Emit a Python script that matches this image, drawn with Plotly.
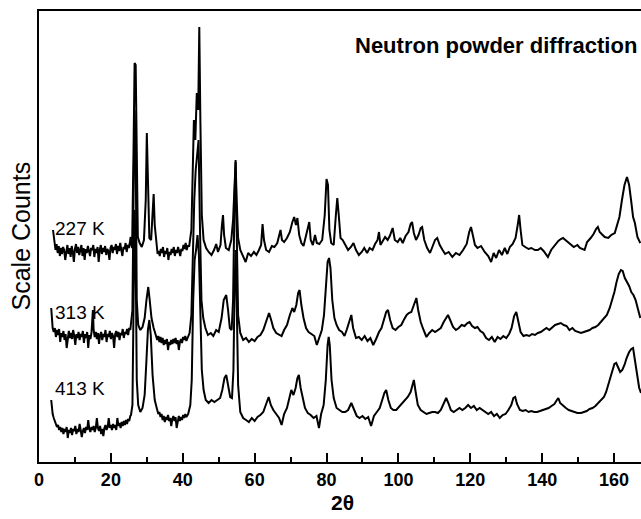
import plotly.graph_objects as go

# ---- data: 2theta (deg), scaled counts (arbitrary units, offsets included) ----
pattern_227K = [(3.9,270),(4.1,262),(4.3,255),(4.6,250),(4.9,256),(5.2,247),(5.5,254),(5.8,244),(6.1,252),(6.4,246),(6.7,253),(7.0,250),(7.3,240),(7.6,251),(7.9,255),(8.2,246),(8.5,252),(8.8,243),(9.1,254),(9.4,248),(9.7,238),(10.0,251),(10.3,256),(10.6,247),(10.9,253),(11.2,245),(11.5,250),(11.8,255),(12.1,244),(12.4,252),(12.7,240),(13.0,251),(13.3,247),(13.6,254),(13.9,249),(14.2,244),(14.5,252),(14.8,250),(15.1,255),(15.4,243),(15.7,251),(16.0,247),(16.3,253),(16.6,238),(16.9,250),(17.2,255),(17.5,246),(17.8,252),(18.1,248),(18.4,254),(18.7,245),(19.0,251),(19.3,249),(19.6,240),(19.9,252),(20.2,255),(20.5,247),(20.8,253),(21.1,250),(21.4,256),(21.7,246),(22.0,254),(22.3,249),(22.6,257),(22.9,250),(23.2,244),(23.5,253),(23.8,251),(24.1,257),(24.4,248),(24.7,255),(25.0,252),(25.3,258),(25.5,263),(25.7,255),(25.9,252),(26.3,350),(26.6,437),(26.9,435),(27.2,320),(27.5,263),(28.0,257),(28.6,253),(29.2,260),(29.7,300),(30.0,367),(30.3,310),(30.7,262),(31.2,260),(31.6,290),(31.9,306),(32.2,275),(32.7,252),(33.0,246),(33.3,249),(33.6,244),(33.9,251),(34.2,247),(34.5,253),(34.8,243),(35.1,249),(35.4,246),(35.7,252),(36.0,240),(36.3,248),(36.6,245),(36.9,251),(37.2,247),(37.5,253),(37.8,244),(38.1,250),(38.4,247),(38.7,253),(39.0,248),(39.3,244),(39.6,251),(39.9,249),(40.2,255),(40.5,251),(40.8,257),(41.1,250),(41.4,254),(41.8,254),(42.4,270),(42.8,340),(43.1,380),(43.5,360),(43.9,407),(44.3,390),(44.6,473),(44.9,380),(45.3,285),(45.8,260),(46.5,252),(47.2,248),(48.0,245),(48.7,250),(49.3,256),(49.8,248),(50.5,255),(50.9,275),(51.2,285),(51.5,265),(52.0,252),(52.8,250),(53.5,260),(54.0,280),(54.4,325),(54.7,338),(55.0,300),(55.4,262),(56.0,250),(56.8,244),(57.5,238),(58.2,247),(59.0,244),(59.8,248),(60.5,245),(61.2,250),(61.8,255),(62.2,276),(62.6,260),(63.2,250),(64.0,248),(64.8,254),(65.5,253),(66.3,257),(66.8,265),(67.2,270),(67.6,260),(68.2,258),(69.0,262),(69.8,268),(70.5,278),(71.0,283),(71.5,275),(71.9,282),(72.4,265),(73.0,257),(73.6,254),(74.2,262),(74.8,272),(75.2,278),(75.6,260),(76.2,255),(76.8,265),(77.3,257),(78.0,256),(78.8,260),(79.5,285),(80.0,321),(80.4,315),(80.8,270),(81.3,257),(82.0,255),(82.6,285),(83.0,302),(83.4,285),(83.9,262),(84.5,260),(85.2,255),(86.0,250),(86.8,253),(87.5,257),(88.2,250),(89.0,245),(89.8,248),(90.5,252),(91.3,247),(92.0,252),(92.8,250),(93.5,256),(94.2,260),(94.6,268),(95.0,255),(95.6,259),(96.3,263),(97.0,260),(97.6,264),(98.4,272),(99.0,260),(99.8,258),(100.5,262),(101.2,257),(102.0,264),(102.8,268),(103.4,276),(103.8,278),(104.3,267),(104.9,260),(105.6,265),(106.2,272),(106.6,273),(107.2,260),(108.0,252),(108.8,247),(109.5,254),(110.2,260),(110.8,262),(111.5,255),(112.3,250),(113.0,246),(114.0,248),(115.0,243),(116.0,247),(117.0,245),(118.0,250),(119.0,256),(119.7,268),(120.2,273),(120.7,265),(121.3,255),(122.0,252),(123.0,254),(124.0,248),(125.0,244),(125.8,238),(126.5,247),(127.2,242),(128.0,250),(128.8,245),(129.6,252),(130.3,246),(131.0,253),(131.8,256),(132.6,262),(133.2,275),(133.6,285),(134.0,270),(134.5,255),(135.3,253),(136.2,251),(137.0,252),(138.0,250),(138.8,250),(139.6,252),(140.4,249),(141.6,243),(142.5,250),(143.5,255),(144.5,259),(145.2,261),(145.8,262),(146.8,259),(147.8,256),(148.8,253),(149.8,255),(150.5,252),(151.8,250),(152.5,258),(153.5,262),(154.3,266),(155.0,271),(155.5,273),(156.0,268),(156.8,265),(157.4,263),(158.4,262),(159.2,265),(160.2,267),(160.8,275),(161.5,283),(162.2,300),(162.9,315),(163.6,323),(164.2,315),(164.8,298),(165.3,283),(165.8,277),(166.5,263),(167.3,257)]

pattern_313K = [(3.4,192),(3.6,180),(3.8,172),(4.1,168),(4.4,172),(4.7,163),(5.0,170),(5.3,165),(5.6,171),(5.9,158),(6.2,167),(6.5,163),(6.8,169),(7.1,160),(7.4,166),(7.7,152),(8.0,165),(8.3,169),(8.6,162),(8.9,167),(9.2,161),(9.5,170),(9.8,164),(10.1,155),(10.4,166),(10.7,162),(11.0,168),(11.3,160),(11.6,166),(11.9,163),(12.2,169),(12.5,157),(12.8,166),(13.1,162),(13.4,168),(13.7,152),(14.0,165),(14.3,161),(14.6,167),(14.9,180),(15.0,190),(15.2,170),(15.5,163),(15.8,168),(16.1,161),(16.4,167),(16.7,156),(17.0,165),(17.3,168),(17.6,160),(17.9,166),(18.2,163),(18.5,170),(18.8,158),(19.1,166),(19.4,163),(19.7,169),(20.0,161),(20.3,167),(20.6,164),(20.9,152),(21.2,166),(21.5,169),(21.8,163),(22.1,168),(22.4,160),(22.7,167),(23.0,165),(23.3,171),(23.6,162),(23.9,168),(24.2,166),(24.5,171),(24.8,165),(25.1,172),(25.4,170),(25.6,175),(26.0,190),(26.3,300),(26.6,390),(26.9,350),(27.2,200),(27.6,175),(28.2,170),(28.8,173),(29.4,182),(29.9,200),(30.4,213),(30.8,200),(31.3,182),(31.9,172),(32.6,165),(32.9,160),(33.2,164),(33.5,158),(33.8,163),(34.1,157),(34.4,162),(34.7,155),(35.0,160),(35.3,156),(35.6,161),(35.9,150),(36.2,158),(36.5,155),(36.8,160),(37.1,156),(37.4,161),(37.7,157),(38.0,162),(38.3,156),(38.6,160),(38.9,150),(39.2,158),(39.5,161),(39.8,157),(40.1,163),(40.4,160),(40.7,164),(41.0,159),(41.3,162),(41.9,167),(42.4,185),(42.8,260),(43.2,300),(43.6,330),(44.0,350),(44.4,360),(44.8,270),(45.2,200),(45.7,182),(46.3,172),(47.0,165),(47.8,167),(48.5,164),(49.3,170),(50.0,168),(50.8,182),(51.4,200),(52.1,205),(52.6,190),(53.1,172),(53.6,170),(54.0,200),(54.4,300),(54.7,340),(55.0,270),(55.4,185),(56.0,167),(56.8,160),(57.6,162),(58.4,158),(59.2,161),(60.0,159),(60.8,163),(61.6,165),(62.4,170),(63.2,178),(64.0,187),(64.6,180),(65.2,172),(66.0,167),(66.8,165),(67.5,164),(68.2,170),(69.0,175),(69.8,185),(70.5,192),(71.0,188),(71.6,195),(72.1,207),(72.5,210),(73.0,195),(73.6,182),(74.3,172),(75.0,168),(75.8,166),(76.6,164),(77.3,155),(78.0,163),(78.7,170),(79.3,185),(79.8,210),(80.3,238),(80.7,242),(81.1,232),(81.6,200),(82.2,182),(82.8,175),(83.5,170),(84.3,168),(85.0,164),(85.6,170),(86.3,178),(86.9,185),(87.4,172),(88.2,162),(89.0,163),(89.8,160),(90.6,164),(91.4,159),(92.2,162),(93.0,155),(93.8,161),(94.6,168),(95.3,172),(96.0,182),(96.6,188),(97.1,190),(97.7,180),(98.4,172),(99.2,170),(100.0,173),(100.8,175),(101.5,180),(102.3,185),(102.9,187),(103.6,188),(104.3,195),(105.0,202),(105.5,190),(106.2,178),(107.0,170),(107.8,163),(108.6,167),(109.4,170),(110.2,168),(111.0,170),(111.8,172),(112.6,178),(113.3,182),(113.8,185),(114.4,180),(115.2,173),(116.0,170),(116.8,172),(117.6,175),(118.4,174),(119.2,177),(119.8,178),(120.5,174),(121.3,172),(122.0,173),(122.8,169),(123.6,167),(124.4,162),(125.2,160),(126.0,163),(126.8,158),(127.6,163),(128.4,161),(129.2,164),(130.0,162),(130.8,166),(131.5,172),(132.2,184),(132.8,188),(133.4,178),(134.0,168),(134.8,164),(135.6,165),(136.4,164),(137.2,166),(138.0,165),(138.8,167),(139.6,168),(140.4,170),(141.2,172),(142.0,170),(142.8,173),(143.6,175),(144.4,176),(145.2,177),(146.0,175),(146.8,174),(147.6,170),(148.4,172),(149.2,169),(150.0,168),(150.8,167),(151.6,168),(152.4,169),(153.2,170),(154.0,172),(154.8,173),(155.6,175),(156.4,178),(157.2,181),(158.0,185),(158.8,192),(159.5,200),(160.1,208),(160.7,218),(161.3,226),(161.9,230),(162.4,229),(163.0,222),(163.6,218),(164.2,214),(164.8,208),(165.4,205),(166.0,200),(166.7,190),(167.3,182)]

pattern_413K = [(3.4,100),(3.6,92),(3.8,86),(4.1,82),(4.4,78),(4.7,76),(5.0,73),(5.3,75),(5.6,70),(5.9,73),(6.2,68),(6.5,72),(6.8,66),(7.1,71),(7.4,68),(7.7,73),(8.0,62),(8.3,70),(8.6,67),(8.9,72),(9.2,65),(9.5,71),(9.8,69),(10.1,74),(10.4,66),(10.7,71),(11.0,68),(11.3,76),(11.6,70),(11.9,63),(12.2,69),(12.5,72),(12.8,67),(13.1,73),(13.4,70),(13.7,80),(14.0,71),(14.3,68),(14.6,73),(14.9,70),(15.2,74),(15.5,68),(15.8,72),(16.1,82),(16.4,72),(16.7,69),(17.0,74),(17.3,66),(17.6,71),(17.9,64),(18.2,72),(18.5,75),(18.8,70),(19.1,73),(19.4,82),(19.7,72),(20.0,75),(20.3,70),(20.6,76),(20.9,72),(21.2,75),(21.5,70),(21.8,82),(22.1,74),(22.4,77),(22.7,72),(23.0,78),(23.3,74),(23.6,79),(23.9,75),(24.2,80),(24.5,76),(24.8,81),(25.1,79),(25.4,84),(25.6,85),(26.0,95),(26.3,170),(26.6,290),(26.9,240),(27.2,120),(27.6,95),(28.2,88),(28.8,92),(29.4,105),(29.9,140),(30.3,170),(30.7,180),(31.1,165),(31.6,125),(32.2,100),(32.9,90),(33.2,86),(33.5,88),(33.8,83),(34.1,86),(34.4,80),(34.7,84),(35.0,78),(35.3,83),(35.6,80),(35.9,85),(36.2,79),(36.5,82),(36.8,74),(37.1,81),(37.4,84),(37.7,79),(38.0,83),(38.3,72),(38.6,81),(38.9,84),(39.2,79),(39.5,83),(39.8,80),(40.1,85),(40.4,82),(40.7,86),(41.0,83),(41.5,86),(42.1,95),(42.5,120),(42.9,200),(43.3,240),(43.7,250),(44.1,265),(44.5,245),(44.9,170),(45.3,130),(45.8,110),(46.4,100),(47.2,97),(48.0,100),(48.8,98),(49.6,100),(50.4,102),(51.0,110),(51.6,122),(52.1,125),(52.6,115),(53.2,103),(53.7,102),(54.1,130),(54.4,210),(54.7,250),(55.0,200),(55.4,115),(56.0,88),(56.8,82),(57.6,80),(58.4,78),(59.2,82),(60.0,79),(60.8,83),(61.6,85),(62.4,88),(63.2,97),(63.9,103),(64.5,95),(65.2,90),(66.0,86),(66.8,82),(67.5,75),(68.2,86),(69.0,92),(69.6,100),(70.2,110),(70.8,105),(71.4,112),(71.9,122),(72.3,125),(72.8,112),(73.4,100),(74.0,92),(74.8,87),(75.6,85),(76.4,82),(77.2,84),(77.9,72),(78.5,86),(79.2,95),(79.8,120),(80.3,155),(80.6,163),(80.9,155),(81.4,120),(82.0,102),(82.8,92),(83.6,90),(84.4,88),(85.2,88),(86.0,90),(86.9,97),(87.6,90),(88.4,84),(89.2,82),(90.0,84),(90.8,81),(91.6,83),(92.4,74),(93.2,84),(94.0,88),(94.8,92),(95.5,100),(96.1,107),(96.6,110),(97.2,100),(97.9,92),(98.6,90),(99.4,90),(100.2,93),(101.0,96),(101.8,100),(102.6,103),(103.4,108),(104.0,115),(104.3,120),(104.8,108),(105.4,95),(106.2,90),(107.0,88),(107.8,86),(108.6,87),(109.4,88),(110.2,88),(111.0,87),(111.8,90),(112.5,95),(113.3,102),(113.9,97),(114.6,90),(115.4,88),(116.2,90),(117.0,92),(117.8,90),(118.6,92),(119.4,95),(120.2,92),(121.0,94),(121.8,90),(122.6,92),(123.4,90),(124.2,88),(125.0,86),(125.8,88),(126.6,84),(127.4,86),(128.2,82),(129.0,85),(129.8,86),(130.6,90),(131.4,95),(132.0,102),(132.5,103),(133.0,96),(133.8,90),(134.6,89),(135.4,90),(136.2,88),(137.0,89),(137.8,88),(138.6,88),(139.4,89),(140.2,90),(141.0,91),(141.8,92),(142.6,94),(143.4,96),(144.1,100),(144.5,102),(145.0,97),(145.8,94),(146.6,92),(147.4,90),(148.2,89),(149.0,88),(149.8,87),(150.8,87),(151.6,88),(152.4,89),(153.2,91),(154.0,92),(154.8,94),(155.6,97),(156.4,100),(157.2,103),(157.8,108),(158.4,115),(159.0,122),(159.6,130),(160.1,136),(160.6,137),(161.1,132),(161.7,128),(162.3,130),(162.9,135),(163.5,142),(164.2,148),(164.8,151),(165.3,152),(165.8,140),(166.4,125),(167.0,112),(167.5,107)]

series_names = ["227 K", "313 K", "413 K"]
label_positions = [(3.9, 272), (3.9, 188), (3.9, 112)]
x_ticks = [0, 20, 40, 60, 80, 100, 120, 140, 160]

FONT = "Liberation Sans, Arial, sans-serif"

fig = go.Figure()
for name, pat in zip(series_names, [pattern_227K, pattern_313K, pattern_413K]):
    xs = [p[0] for p in pat]
    ys = [p[1] for p in pat]
    fig.add_trace(go.Scatter(x=xs, y=ys, mode="lines", name=name,
                             line=dict(color="black", width=2), showlegend=False))

annotations = []
for name, (lx, ly) in zip(series_names, label_positions):
    annotations.append(dict(x=lx, y=ly, xref="x", yref="y", text=name, showarrow=False,
                            xanchor="left", yanchor="middle",
                            font=dict(family=FONT, size=19, color="black")))
annotations.append(dict(x=87.4, y=455, xref="x", yref="y", text="<b>Neutron powder diffraction</b>",
                        showarrow=False, xanchor="left", yanchor="middle",
                        font=dict(family=FONT, size=22, color="black")))
annotations.append(dict(x=-19/602, y=0.5, xref="paper", yref="paper", text="Scale Counts",
                        textangle=-90, showarrow=False, xanchor="center", yanchor="middle",
                        font=dict(family=FONT, size=25, color="black")))
annotations.append(dict(x=(342-39)/602, y=(462-503)/451, xref="paper", yref="paper", text="<b>2θ</b>",
                        showarrow=False, xanchor="center", yanchor="middle",
                        font=dict(family=FONT, size=21, color="black")))

fig.update_layout(
    width=641, height=519,
    margin=dict(l=39, r=0, t=11, b=57, autoexpand=False),
    paper_bgcolor="white", plot_bgcolor="white",
    annotations=annotations,
    xaxis=dict(range=[0, 167.5], tickvals=x_ticks, ticks="inside", ticklen=9, tickwidth=2,
               tickcolor="black", showline=True, linewidth=2, linecolor="black", mirror=True,
               showgrid=False, zeroline=False, automargin=False,
               tickfont=dict(family=FONT, size=18, color="black", weight="bold"),
               minor=dict(dtick=10, ticks="inside", ticklen=5, tickwidth=2, tickcolor="black")),
    yaxis=dict(range=[38, 489], showticklabels=False, ticks="", showline=True, linewidth=2,
               linecolor="black", showgrid=False, zeroline=False, automargin=False),
)

fig.write_html("out.html", config={"displayModeBar": False},
               post_script="document.body.style.margin='0';document.body.style.overflow='hidden';")
